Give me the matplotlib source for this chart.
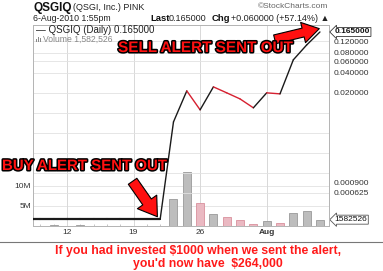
import matplotlib
matplotlib.use('Agg')
import matplotlib.pyplot as plt
from matplotlib.patches import FancyArrowPatch, Rectangle
import matplotlib.patheffects as pe
from matplotlib.ticker import FixedLocator, NullLocator, FixedFormatter

plt.rcParams['font.family'] = ['Liberation Sans', 'DejaVu Sans']

# ---------------- data ----------------
dates = ['Jul 7', 'Jul 8', 'Jul 9', 'Jul 12', 'Jul 13', 'Jul 14', 'Jul 15', 'Jul 16',
         'Jul 19', 'Jul 20', 'Jul 21', 'Jul 22', 'Jul 23', 'Jul 26', 'Jul 27', 'Jul 28',
         'Jul 29', 'Jul 30', 'Aug 2', 'Aug 3', 'Aug 4', 'Aug 5', 'Aug 6']
close = [0.00025, 0.00025, 0.00025, 0.00025, 0.00025, 0.00025, 0.00025, 0.00025,
         0.00025, 0.00025, 0.00025, 0.0073, 0.0214, 0.0111, 0.0246, 0.0200,
         0.0162, 0.0119, 0.0200, 0.0193, 0.0628, 0.105, 0.165]
volume_m = [0.0, 0.0, 0.3, 0.0, 0.3, 0.0, 0.0, 0.0,
            0.0, 0.0, 0.0, 6.75, 13.5, 5.75, 3.0, 2.25,
            1.6, 0.5, 1.25, 0.75, 3.25, 3.75, 1.582526]
xtick_dates = ['Jul 12', 'Jul 19', 'Jul 26', 'Aug 2']
xtick_labels = ['12', '19', '26', 'Aug']
price_ticks = [0.12, 0.08, 0.06, 0.04, 0.02, 0.0009, 0.000625]
price_grid = [0.12, 0.08, 0.06, 0.04, 0.02, 0.01, 0.005, 0.0025, 0.00125, 0.000625]
vol_ticks = [5, 10]
vol_tick_labels = ['5M', '10M']
last_price = 0.165
last_volume = 1582526

W, H = 383, 271
fig = plt.figure(figsize=(W / 100, H / 100), dpi=100)
fig.patch.set_facecolor('white')

def fx(x):
    return x / W

def fy(y):
    return 1 - y / H

left, right, top, bottom = 33, 329, 25, 226
ax_vol = fig.add_axes([fx(left), fy(bottom), (right - left) / W, (bottom - top) / H])
ax = ax_vol.twinx()

xs = list(range(len(dates)))

# volume bars
up_grey, down_pink = '#bdbdbd', '#eab9c2'
bar_colors = []
bar_edges = []
for i in range(len(dates)):
    if i > 0 and close[i] < close[i - 1]:
        bar_colors.append(down_pink); bar_edges.append('#d9909c')
    else:
        bar_colors.append(up_grey); bar_edges.append('#9a9a9a')
ax_vol.bar(xs, volume_m, width=0.6, color=bar_colors, edgecolor=bar_edges, linewidth=0.6, zorder=2)
ax_vol.set_ylim(0, 50.25)
ax_vol.set_xlim(0.45, 22.68)

# volume grid
for v in vol_ticks:
    ax_vol.axhline(v, color='#e2e2e2', lw=0.6, zorder=0)
for d in xtick_dates:
    ax_vol.axvline(dates.index(d), color='#d8d8d8', lw=0.7, zorder=0)

ax_vol.yaxis.set_major_locator(FixedLocator(vol_ticks))
ax_vol.yaxis.set_major_formatter(FixedFormatter(vol_tick_labels))
ax_vol.tick_params(axis='y', labelsize=6, length=0, pad=1.5, labelcolor='#333333')
ax_vol.set_xticks([dates.index(d) for d in xtick_dates])
ax_vol.set_xticklabels(xtick_labels)
ax_vol.tick_params(axis='x', labelsize=6, length=0, pad=2.5, labelcolor='#333333')
for lbl in ax_vol.get_xticklabels():
    if lbl.get_text() == 'Aug':
        lbl.set_fontweight('bold')
ax_vol.set_xticks(xs, minor=True)
ax_vol.tick_params(axis='x', which='minor', length=1.5, color='#bbbbbb', direction='in')

# price (log) axis
ax.set_yscale('log')
ax.set_ylim(0.000198, 0.210)
ax.set_xlim(0.45, 22.68)
for p in price_grid:
    ax.axhline(p, color='#e2e2e2', lw=0.6, zorder=0)
for i in range(len(xs) - 1):
    col = '#d62030' if close[i + 1] < close[i] else '#1a1a1a'
    lw = 1.6 if close[i + 1] == close[i] else 1.0
    ax.plot([xs[i], xs[i + 1]], [close[i], close[i + 1]], color=col, lw=lw,
            solid_capstyle='round', zorder=3)

ax.yaxis.set_major_locator(FixedLocator(price_ticks))
ax.yaxis.set_minor_locator(NullLocator())
ax.set_yticklabels(['%.6f' % p for p in price_ticks])
ax.tick_params(axis='y', labelsize=6, length=0, pad=3, labelcolor='#333333')

for a in (ax, ax_vol):
    for s in a.spines.values():
        s.set_color('#b5b5b5')
        s.set_linewidth(0.7)

# boxed current values on the right
ax.annotate('%.6f' % last_price, xy=(1.0, last_price), xycoords=('axes fraction', 'data'),
            xytext=(4, 0), textcoords='offset points', fontsize=6, fontweight='bold',
            va='center', ha='left', color='#111111',
            bbox=dict(boxstyle='larrow,pad=0.12', fc='white', ec='#333333', lw=0.6))
ax_vol.annotate('{:d}'.format(last_volume), xy=(1.0, last_volume / 1e6),
                xycoords=('axes fraction', 'data'), xytext=(4, 0), textcoords='offset points',
                fontsize=6, va='center', ha='left', color='#111111',
                bbox=dict(boxstyle='larrow,pad=0.12', fc='white', ec='#555555', lw=0.6))

# in-chart legend
fig.text(fx(36), fy(30), '\u2014 QSGIQ (Daily) %.6f' % last_price,
         fontsize=7, va='center', ha='left', color='#222222')
fig.text(fx(43), fy(39.5), 'Volume 1,582,526', fontsize=6.2, va='center', ha='left', color='#888888')
for k, hpx in enumerate([3.0, 5.0, 4.0]):
    fig.patches.append(Rectangle((fx(35.5 + k * 2.2), fy(42)), 1.4 / W, hpx / H,
                                 transform=fig.transFigure, fc='#888888', ec='none'))

# header texts
fig.text(fx(33), fy(8), 'QSGIQ', fontsize=8.5, fontweight='bold', va='center', ha='left', color='#111111')
fig.text(fx(73), fy(8), '(QSGI, Inc.) PINK', fontsize=6.5, va='center', ha='left', color='#222222')
fig.text(fx(33), fy(19), '6-Aug-2010 1:55pm', fontsize=6.3, va='center', ha='left', color='#222222')
fig.text(fx(150), fy(19), 'Last', fontsize=6.8, fontweight='bold', va='center', ha='left', color='#111111')
fig.text(fx(169), fy(19), '0.165000', fontsize=6.5, va='center', ha='left', color='#222222')
fig.text(fx(212), fy(19), 'Chg', fontsize=6.8, fontweight='bold', va='center', ha='left', color='#111111')
fig.text(fx(231), fy(19), '+0.060000 (+57.14%) \u25b2', fontsize=6.5, va='center', ha='left',
         color='#222222', family=['Liberation Sans', 'DejaVu Sans'])
fig.text(fx(328), fy(7), '\u00a9StockCharts.com', fontsize=6, va='center', ha='right', color='#666666')

# alert annotations
outline = [pe.withStroke(linewidth=2.2, foreground='black')]
alert_font = ['Liberation Sans', 'DejaVu Sans']
fig.text(fx(205), fy(48), 'SELL ALERT SENT OUT', fontsize=11, fontweight='bold', color='#ff1010',
         family=alert_font, va='center', ha='center', path_effects=outline)
fig.text(fx(2), fy(166), 'BUY ALERT SENT OUT', fontsize=10.8, fontweight='bold', color='#ff1010',
         family=alert_font, va='center', ha='left', path_effects=outline)

sell_arrow = FancyArrowPatch((fx(272), fy(40)), (fx(322), fy(28)), transform=fig.transFigure,
                             arrowstyle='simple,head_length=1.2,head_width=1.5,tail_width=0.65',
                             mutation_scale=10, fc='#ff1010', ec='black', lw=0.8)
buy_arrow = FancyArrowPatch((fx(131), fy(179)), (fx(159), fy(219)), transform=fig.transFigure,
                            arrowstyle='simple,head_length=1.3,head_width=1.7,tail_width=0.75',
                            mutation_scale=10, fc='#ff1010', ec='black', lw=0.8)
fig.patches.extend([sell_arrow, buy_arrow])

# separator and bottom message
fig.lines.append(plt.Line2D([0, 1], [fy(242), fy(242)], transform=fig.transFigure,
                            color='#777777', lw=0.8))
fig.text(fx(198), fy(251), 'If you had invested $1000 when we sent the alert,', fontsize=8.8,
         fontweight='bold', color='#ff1a1a', va='center', ha='center')
fig.text(fx(208), fy(264), "you'd now have  $264,000", fontsize=8.8,
         fontweight='bold', color='#ff1a1a', va='center', ha='center')

fig.savefig('out.png', dpi=100, facecolor='white')
